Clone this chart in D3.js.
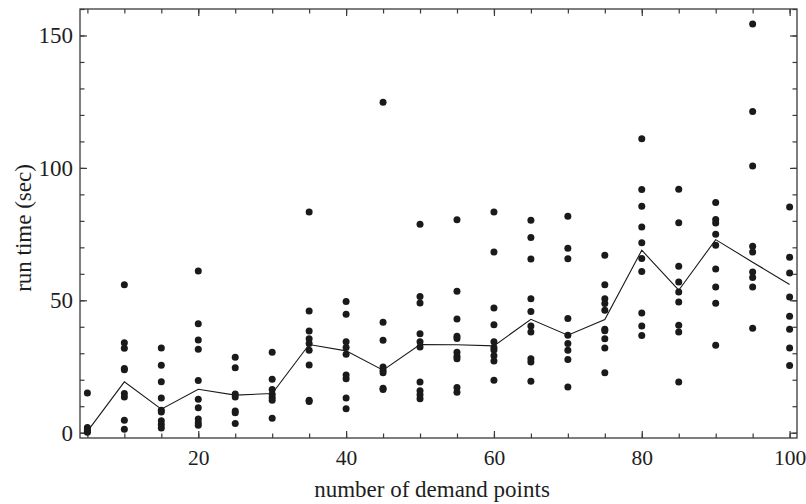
<!DOCTYPE html>
<html>
<head>
<meta charset="utf-8">
<script src="https://cdn.jsdelivr.net/npm/d3@7"></script>
<style>
  html, body { margin: 0; padding: 0; background: #fff; }
  svg text { font-family: "Liberation Serif", "Times New Roman", serif; fill: #1e1e1e; }
  .frame { fill: none; stroke: #3a3a3a; stroke-width: 1.3; }
  .tick line { stroke: #3a3a3a; stroke-width: 1.2; }
  .mean-line { fill: none; stroke: #1a1a1a; stroke-width: 1.1; }
  .dot { fill: #1a1a1a; }
</style>
</head>
<body>
<svg id="chart" width="806" height="504"></svg>
<script>
// number of demand points (x positions of each column of runs)
const demandPoints = [5, 10, 15, 20, 25, 30, 35, 40, 45, 50, 55, 60, 65, 70, 75, 80, 85, 90, 95, 100];

// individual run times (sec), one list per column
const runTimes = [
  [15, 2, 1.2, 0.5, 0.2],
  [55.9, 34, 31.9, 24.2, 23.8, 14.8, 13.5, 4.7, 1.3],
  [32, 25.5, 19.2, 13.1, 8.5, 7.8, 4.5, 3.1, 1.8],
  [61.1, 41.1, 35, 31.5, 19.7, 12.6, 9.4, 5.2, 3.8, 2.8],
  [28.5, 24.5, 14.6, 13.5, 8.2, 7.5, 3.5],
  [30.4, 20.2, 16.3, 14.5, 13.3, 12.3, 5.5],
  [83.3, 46, 38.4, 35.5, 33.7, 31.1, 25.6, 12.3, 11.8],
  [49.5, 44.7, 34.3, 32.2, 29.6, 21.8, 20.4, 13.1, 9.0],
  [124.8, 41.7, 34.9, 24.8, 23.6, 22.6, 16.8, 16.3],
  [78.7, 51.4, 49, 37.4, 34.3, 32.4, 19.1, 15.8, 14.3, 12.8],
  [80.4, 53.4, 42.9, 36.4, 35.6, 30.4, 28.9, 27.9, 17.1, 15.3],
  [83.3, 68.2, 47.1, 40.8, 34.3, 32.2, 31.2, 29.1, 27.1, 19.8],
  [80.2, 73.7, 65.6, 50.6, 45.8, 40.3, 38, 27.9, 26.7, 19.4],
  [81.7, 69.7, 65.7, 43.1, 36.8, 33.7, 31.1, 27.6, 17.3],
  [67, 55.9, 50.6, 48.8, 46.2, 39.1, 38.5, 35.5, 32, 22.6],
  [111, 91.8, 85.5, 77.7, 71.7, 65.8, 60.9, 45.2, 40.3, 36.7],
  [91.9, 79.3, 62.9, 56.9, 53.1, 49.4, 40.6, 38, 19.1],
  [86.9, 80.5, 79.2, 74.9, 70.8, 61.8, 55, 48.9, 33],
  [154.3, 121.3, 100.7, 70.4, 68.2, 60.7, 58.6, 55, 39.4],
  [85.2, 66.3, 60.3, 51.2, 44, 39.1, 32, 25.4]
];

// the connecting line through each column
const lineValues = [0.5, 19.2, 8.9, 16.4, 14.2, 14.8, 33.3, 30.9, 23.6, 33.3,
  33.2, 32.8, 42.8, 36.8, 42.7, 68.9, 53.8, 72.9, 64.4, 56.0];

const xMajorTicks = [20, 40, 60, 80, 100];
const xMinorTicks = d3.range(5, 101, 5);
const yMajorTicks = [0, 50, 100, 150];
const yMinorTicks = d3.range(0, 161, 10);

const width = 806;
const height = 504;
const margin = { top: 9, right: 9, bottom: 66, left: 80 };

const svg = d3.select('#chart');

const x = d3.scaleLinear().domain([4, 101]).range([margin.left, width - margin.right]);
const y = d3.scaleLinear().domain([-2, 160]).range([height - margin.bottom, margin.top]);

const majorLen = 7;
const minorLen = 4.5;

function drawAxis(axisFn, scale, transform, ticks, len, labels) {
  const g = svg.append('g')
    .attr('transform', transform)
    .call(axisFn(scale)
      .tickValues(ticks)
      .tickSize(-len)
      .tickSizeOuter(0)
      .tickPadding(labels ? 12 : 0)
      .tickFormat(labels ? d3.format('d') : () => ''));
  g.select('.domain').remove();
  g.selectAll('text').attr('font-size', 23).attr('fill', '#1e1e1e')
    .style('font-family', '"Liberation Serif", "Times New Roman", serif');
  return g;
}

const bottomY = height - margin.bottom;
const rightX = width - margin.right;

// minor ticks first, majors (with labels) on top
drawAxis(d3.axisBottom, x, `translate(0,${bottomY})`, xMinorTicks, minorLen, false);
drawAxis(d3.axisBottom, x, `translate(0,${bottomY})`, xMajorTicks, majorLen, true)
  .selectAll('text').attr('font-size', 21.5);
drawAxis(d3.axisTop, x, `translate(0,${margin.top})`, xMinorTicks, minorLen, false);
drawAxis(d3.axisTop, x, `translate(0,${margin.top})`, xMajorTicks, majorLen, false);
drawAxis(d3.axisLeft, y, `translate(${margin.left},0)`, yMinorTicks, minorLen, false);
drawAxis(d3.axisLeft, y, `translate(${margin.left},0)`, yMajorTicks, majorLen, true)
  .selectAll('text').attr('x', -7);
drawAxis(d3.axisRight, y, `translate(${rightX},0)`, yMinorTicks, minorLen, false);
drawAxis(d3.axisRight, y, `translate(${rightX},0)`, yMajorTicks, majorLen, false);

svg.append('rect')
  .attr('class', 'frame')
  .attr('x', margin.left)
  .attr('y', margin.top)
  .attr('width', rightX - margin.left)
  .attr('height', bottomY - margin.top);

// line through the columns
const line = d3.line()
  .x((d, i) => x(demandPoints[i]))
  .y((d) => y(d));

svg.append('path')
  .datum(lineValues)
  .attr('class', 'mean-line')
  .attr('d', line);

// the individual runs
const dots = demandPoints.flatMap((n, i) => runTimes[i].map((t) => ({ n, t })));
svg.append('g')
  .selectAll('circle')
  .data(dots)
  .join('circle')
  .attr('class', 'dot')
  .attr('cx', (d) => x(d.n))
  .attr('cy', (d) => y(d.t))
  .attr('r', 3.5);

// axis titles
svg.append('text')
  .attr('x', 432)
  .attr('y', 497)
  .attr('text-anchor', 'middle')
  .attr('font-size', 23)
  .text('number of demand points');

svg.append('text')
  .attr('transform', `translate(31,228) rotate(-90)`)
  .attr('text-anchor', 'middle')
  .attr('font-size', 23)
  .text('run time (sec)');
</script>
</body>
</html>
